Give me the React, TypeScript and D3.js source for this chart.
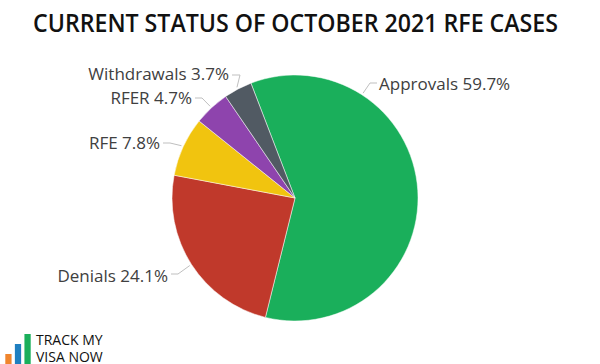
import { useRef, useEffect } from 'react';
import * as d3 from 'd3';

const categories = ['Approvals', 'Denials', 'RFE', 'RFER', 'Withdrawals'];
const shares = [59.7, 24.1, 7.8, 4.7, 3.7];
const colors = ['#1aaf5b', '#c0392b', '#f1c40f', '#8e44ad', '#515a63'];
// where each label sits (text anchor end/start, x, y) and leader elbow
const labelSpots = [
  { x: 379, y: 90, anchor: 'start', ex: 370, ey: 83, angle: 33 },
  { x: 168, y: 282, anchor: 'end', ex: 178, ey: 274, angle: null },
  { x: 160, y: 149, anchor: 'end', ex: 170, ey: 143, angle: null },
  { x: 192, y: 104, anchor: 'end', ex: 202, ey: 98, angle: null },
  { x: 229, y: 80, anchor: 'end', ex: 240, ey: 75, angle: null },
];

export default function App() {
  const ref = useRef<SVGSVGElement | null>(null);

  useEffect(() => {
    const svg = d3.select(ref.current);
    svg.selectAll('*').remove();

    const cx = 295;
    const cy = 198;
    const radius = 123;
    const font = "'Open Sans', 'Noto Sans', sans-serif";

    // Title
    svg
      .append('text')
      .attr('x', 33)
      .attr('y', 32)
      .attr('font-family', font)
      .attr('font-size', '25px')
      .attr('font-weight', '600')
      .attr('fill', '#111')
      .attr('textLength', 525)
      .attr('lengthAdjust', 'spacingAndGlyphs')
      .text('CURRENT STATUS OF OCTOBER 2021 RFE CASES');

    const data = categories.map((c, i) => ({ name: c, value: shares[i], color: colors[i] }));
    const rot = (-21 * Math.PI) / 180;
    const pie = d3
      .pie<(typeof data)[number]>()
      .sort(null)
      .value((d) => d.value)
      .startAngle(rot)
      .endAngle(rot + 2 * Math.PI);
    const arcs = pie(data);
    const arc = d3.arc<d3.PieArcDatum<(typeof data)[number]>>().innerRadius(0).outerRadius(radius);

    const g = svg.append('g').attr('transform', `translate(${cx},${cy})`);
    g.selectAll('path')
      .data(arcs)
      .enter()
      .append('path')
      .attr('d', arc)
      .attr('fill', (d) => d.data.color)
      .attr('stroke', '#fff')
      .attr('stroke-width', 0.5);

    // Labels with leader lines
    arcs.forEach((a, i) => {
      const s = labelSpots[i];
      const ang = s.angle !== null ? (s.angle * Math.PI) / 180 : (a.startAngle + a.endAngle) / 2;
      const r0 = radius + 2;
      const px = cx + r0 * Math.sin(ang);
      const py = cy - r0 * Math.cos(ang);
      const endX = s.anchor === 'end' ? s.x + 3 : s.x - 2;
      svg
        .append('polyline')
        .attr('points', `${px},${py} ${s.ex},${s.ey} ${endX},${s.ey}`)
        .attr('fill', 'none')
        .attr('stroke', '#bfbfbf')
        .attr('stroke-width', 1);
      svg
        .append('text')
        .attr('x', s.x)
        .attr('y', s.y)
        .attr('text-anchor', s.anchor)
        .attr('font-family', font)
        .attr('font-size', '17px')
        .attr('fill', '#404040')
        .text(`${a.data.name} ${a.data.value}%`);
    });

    // Logo
    const logoBars = [
      { h: 10, c: '#f0852d' },
      { h: 20, c: '#1f7fc0' },
      { h: 30, c: '#1aaf5b' },
    ];
    const lx = d3.scaleBand().domain(['0', '1', '2']).range([1, 34]).padding(0.45);
    logoBars.forEach((b, i) => {
      svg
        .append('rect')
        .attr('x', lx(String(i))!)
        .attr('y', 364 - b.h)
        .attr('width', lx.bandwidth() + 1)
        .attr('height', b.h)
        .attr('fill', b.c);
    });
    ['TRACK MY', 'VISA NOW'].forEach((t, i) => {
      svg
        .append('text')
        .attr('x', 36)
        .attr('y', 344.5 + i * 17)
        .attr('font-family', font)
        .attr('font-size', '14px')
        .attr('fill', '#111')
        .text(t);
    });
  }, []);

  return (
    <svg
      ref={ref}
      width={600}
      height={364}
      style={{ position: 'absolute', left: 0, top: 0, background: '#fff' }}
    />
  );
}
